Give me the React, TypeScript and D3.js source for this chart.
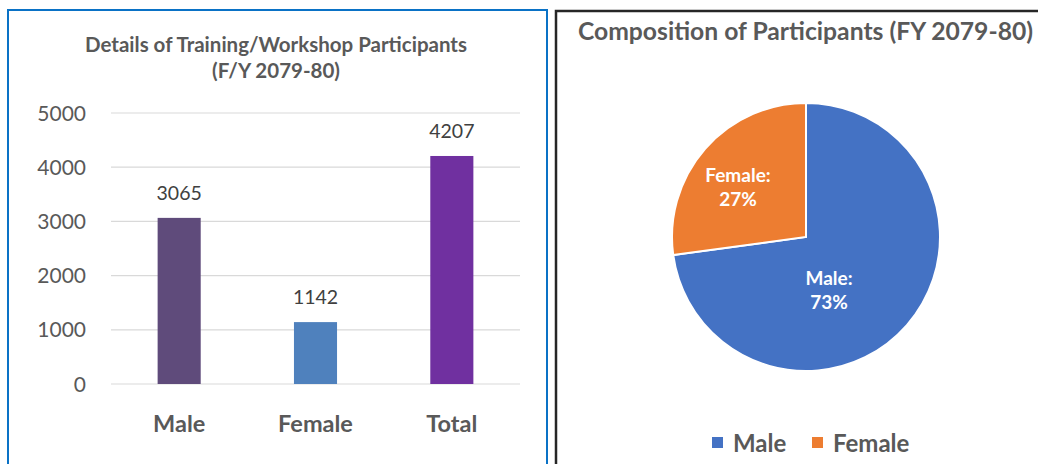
import React from "react";
import * as d3 from "d3";

const categories = ["Male", "Female", "Total"];
const values = [3065, 1142, 4207];
const barColors = ["#5F4B7B", "#4F81BD", "#7030A0"];
const yTicks = [0, 1000, 2000, 3000, 4000, 5000];

const pieLabels = ["Male", "Female"];
const pieValues = [3065, 1142];
const pieColors = ["#4472C4", "#ED7D31"];

const FONT = "Lato, 'Open Sans', sans-serif";

export default function App() {
  const W = 1038, H = 464;
  const x = d3.scaleBand().domain(categories).range([111, 520]).paddingInner(0.684).paddingOuter(0.342);
  const y = d3.scaleLinear().domain([0, 5000]).range([384, 113]);

  const pie = d3.pie<number>().sort(null).value((d) => d)(pieValues);
  const R = 134;
  const cx = 806, cy = 237;
  const arc = d3.arc<d3.PieArcDatum<number>>().innerRadius(0).outerRadius(R);
  const total = d3.sum(pieValues);

  return (
    <svg width={W} height={H} style={{ position: "absolute", left: 0, top: 0, background: "#fff" }} fontFamily={FONT}>
      {/* left panel */}
      <rect x={8} y={10} width={539} height={470} fill="#fff" stroke="#0A72C6" strokeWidth={2} />
      <text x={276} y={51.5} textAnchor="middle" fontSize={20.5} fontWeight="bold" fill="#595959">Details of Training/Workshop Participants</text>
      <text x={276} y={77.5} textAnchor="middle" fontSize={20.5} fontWeight="bold" fill="#595959">(F/Y 2079-80)</text>
      {yTicks.map((t) => (
        <g key={t}>
          <line x1={111} x2={520} y1={y(t)} y2={y(t)} stroke="#D9D9D9" strokeWidth={1.2} />
          <text x={86} y={y(t) + 7.5} textAnchor="end" fontSize={21} fill="#595959">{t}</text>
        </g>
      ))}
      {categories.map((c, i) => (
        <g key={c}>
          <rect x={x(c)!} y={y(values[i])} width={x.bandwidth()} height={y(0) - y(values[i])} fill={barColors[i]} />
          <text x={x(c)! + x.bandwidth() / 2} y={y(values[i]) - 18} textAnchor="middle" fontSize={19.5} fill="#404040">{values[i]}</text>
          <text x={x(c)! + x.bandwidth() / 2} y={431.5} textAnchor="middle" fontSize={23.5} fontWeight="bold" fill="#595959">{c}</text>
        </g>
      ))}

      {/* right panel */}
      <rect x={556} y={11} width={500} height={470} fill="#fff" stroke="#262626" strokeWidth={2.5} />
      <text x={805.5} y={39.5} textAnchor="middle" fontSize={24.7} fontWeight="bold" fill="#595959">Composition of Participants (FY 2079-80)</text>
      <g transform={`translate(${cx},${cy})`}>
        {pie.map((p, i) => (
          <path key={i} d={arc(p)!} fill={pieColors[i]} stroke="#fff" strokeWidth={2} />
        ))}
      </g>
      {pie.map((p, i) => {
        const pct = Math.round((p.data / total) * 100);
        const pos = i === 0 ? [829, 285] : [738, 182];
        return (
          <g key={"l" + i}>
            <text x={pos[0]} y={pos[1]} textAnchor="middle" fontSize={19} fontWeight="bold" fill="#fff">{pieLabels[i]}:</text>
            <text x={pos[0]} y={pos[1] + 23.5} textAnchor="middle" fontSize={19} fontWeight="bold" fill="#fff">{pct}%</text>
          </g>
        );
      })}
      {pieLabels.map((l, i) => {
        const lx = i === 0 ? 712 : 812;
        return (
          <g key={"lg" + i}>
            <rect x={lx} y={437} width={11} height={11} fill={pieColors[i]} />
            <text x={lx + 21} y={451.5} fontSize={24} fontWeight="bold" fill="#595959">{l}</text>
          </g>
        );
      })}
    </svg>
  );
}
